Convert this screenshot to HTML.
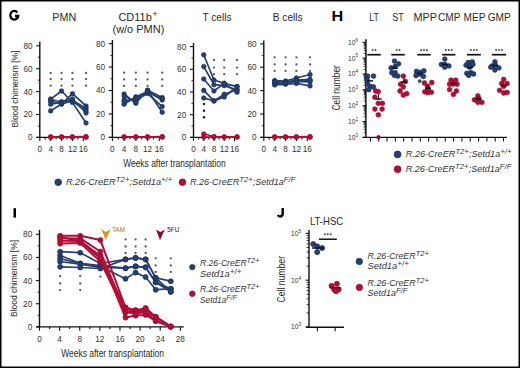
<!DOCTYPE html>
<html><head><meta charset="utf-8"><style>
html,body{margin:0;padding:0;background:#fff;}
#f{position:relative;width:520px;height:368px;overflow:hidden;background:#fff;}
svg{position:absolute;left:0;top:0;font-family:"Liberation Sans",sans-serif;}
</style></head><body><div id="f">
<svg width="520" height="368" viewBox="0 0 520 368">
<rect x="0" y="0" width="520" height="368" fill="#fff"/>
<path d="M17.4,12.5 A4.0,4.35 0 1 0 18.25,16.0 L15.0,16.0" fill="none" stroke="#000" stroke-width="2.3"/>
<text x="64.20" y="20.80" font-size="10.6" text-anchor="middle" fill="#2a2a2a" textLength="23.9" lengthAdjust="spacingAndGlyphs" >PMN</text>
<text x="118.40" y="21.00" font-size="10.6" text-anchor="start" fill="#2a2a2a" textLength="33.5" lengthAdjust="spacingAndGlyphs" >CD11b</text>
<text x="152.40" y="16.60" font-size="8.4" text-anchor="start" fill="#2a2a2a" >+</text>
<text x="138.40" y="32.60" font-size="10.6" text-anchor="middle" fill="#2a2a2a" textLength="51.8" lengthAdjust="spacingAndGlyphs" >(w/o PMN)</text>
<text x="217.00" y="21.00" font-size="10.6" text-anchor="middle" fill="#2a2a2a" textLength="28.9" lengthAdjust="spacingAndGlyphs" >T cells</text>
<text x="287.70" y="21.00" font-size="10.6" text-anchor="middle" fill="#2a2a2a" textLength="30" lengthAdjust="spacingAndGlyphs" >B cells</text>
<line x1="39.80" y1="41.80" x2="39.80" y2="137.90" stroke="#111" stroke-width="1.4"/>
<line x1="36.20" y1="137.40" x2="39.80" y2="137.40" stroke="#111" stroke-width="1.1"/>
<text x="32.50" y="140.30" font-size="8.2" text-anchor="end" fill="#333" >0</text>
<line x1="36.20" y1="114.50" x2="39.80" y2="114.50" stroke="#111" stroke-width="1.1"/>
<text x="32.50" y="117.40" font-size="8.2" text-anchor="end" fill="#333" >20</text>
<line x1="36.20" y1="91.60" x2="39.80" y2="91.60" stroke="#111" stroke-width="1.1"/>
<text x="32.50" y="94.50" font-size="8.2" text-anchor="end" fill="#333" >40</text>
<line x1="36.20" y1="68.70" x2="39.80" y2="68.70" stroke="#111" stroke-width="1.1"/>
<text x="32.50" y="71.60" font-size="8.2" text-anchor="end" fill="#333" >60</text>
<line x1="36.20" y1="45.80" x2="39.80" y2="45.80" stroke="#111" stroke-width="1.1"/>
<text x="32.50" y="48.70" font-size="8.2" text-anchor="end" fill="#333" >80</text>
<line x1="37.80" y1="125.95" x2="39.80" y2="125.95" stroke="#111" stroke-width="0.9"/>
<line x1="37.80" y1="103.05" x2="39.80" y2="103.05" stroke="#111" stroke-width="0.9"/>
<line x1="37.80" y1="80.15" x2="39.80" y2="80.15" stroke="#111" stroke-width="0.9"/>
<line x1="37.80" y1="57.25" x2="39.80" y2="57.25" stroke="#111" stroke-width="0.9"/>
<line x1="36.60" y1="137.40" x2="87.54" y2="137.40" stroke="#111" stroke-width="1.4"/>
<line x1="39.80" y1="137.40" x2="39.80" y2="141.00" stroke="#111" stroke-width="1.1"/>
<line x1="45.24" y1="137.40" x2="45.24" y2="139.60" stroke="#111" stroke-width="1.1"/>
<line x1="50.68" y1="137.40" x2="50.68" y2="141.00" stroke="#111" stroke-width="1.1"/>
<line x1="56.12" y1="137.40" x2="56.12" y2="139.60" stroke="#111" stroke-width="1.1"/>
<line x1="61.56" y1="137.40" x2="61.56" y2="141.00" stroke="#111" stroke-width="1.1"/>
<line x1="67.00" y1="137.40" x2="67.00" y2="139.60" stroke="#111" stroke-width="1.1"/>
<line x1="72.44" y1="137.40" x2="72.44" y2="141.00" stroke="#111" stroke-width="1.1"/>
<line x1="77.88" y1="137.40" x2="77.88" y2="139.60" stroke="#111" stroke-width="1.1"/>
<line x1="83.32" y1="137.40" x2="83.32" y2="141.00" stroke="#111" stroke-width="1.1"/>
<text x="39.80" y="152.00" font-size="8.2" text-anchor="middle" fill="#333" >0</text>
<text x="50.68" y="152.00" font-size="8.2" text-anchor="middle" fill="#333" >4</text>
<text x="61.56" y="152.00" font-size="8.2" text-anchor="middle" fill="#333" >8</text>
<text x="72.44" y="152.00" font-size="8.2" text-anchor="middle" fill="#333" >12</text>
<text x="83.32" y="152.00" font-size="8.2" text-anchor="middle" fill="#333" >16</text>
<line x1="112.40" y1="40.10" x2="112.40" y2="137.90" stroke="#111" stroke-width="1.4"/>
<line x1="108.80" y1="137.40" x2="112.40" y2="137.40" stroke="#111" stroke-width="1.1"/>
<text x="105.10" y="140.30" font-size="8.2" text-anchor="end" fill="#333" >0</text>
<line x1="108.80" y1="113.96" x2="112.40" y2="113.96" stroke="#111" stroke-width="1.1"/>
<text x="105.10" y="116.86" font-size="8.2" text-anchor="end" fill="#333" >20</text>
<line x1="108.80" y1="90.52" x2="112.40" y2="90.52" stroke="#111" stroke-width="1.1"/>
<text x="105.10" y="93.42" font-size="8.2" text-anchor="end" fill="#333" >40</text>
<line x1="108.80" y1="67.08" x2="112.40" y2="67.08" stroke="#111" stroke-width="1.1"/>
<text x="105.10" y="69.98" font-size="8.2" text-anchor="end" fill="#333" >60</text>
<line x1="108.80" y1="43.64" x2="112.40" y2="43.64" stroke="#111" stroke-width="1.1"/>
<text x="105.10" y="46.54" font-size="8.2" text-anchor="end" fill="#333" >80</text>
<line x1="110.40" y1="125.68" x2="112.40" y2="125.68" stroke="#111" stroke-width="0.9"/>
<line x1="110.40" y1="102.24" x2="112.40" y2="102.24" stroke="#111" stroke-width="0.9"/>
<line x1="110.40" y1="78.80" x2="112.40" y2="78.80" stroke="#111" stroke-width="0.9"/>
<line x1="110.40" y1="55.36" x2="112.40" y2="55.36" stroke="#111" stroke-width="0.9"/>
<line x1="109.20" y1="137.40" x2="163.71" y2="137.40" stroke="#111" stroke-width="1.4"/>
<line x1="112.40" y1="137.40" x2="112.40" y2="141.00" stroke="#111" stroke-width="1.1"/>
<line x1="118.26" y1="137.40" x2="118.26" y2="139.60" stroke="#111" stroke-width="1.1"/>
<line x1="124.12" y1="137.40" x2="124.12" y2="141.00" stroke="#111" stroke-width="1.1"/>
<line x1="129.98" y1="137.40" x2="129.98" y2="139.60" stroke="#111" stroke-width="1.1"/>
<line x1="135.84" y1="137.40" x2="135.84" y2="141.00" stroke="#111" stroke-width="1.1"/>
<line x1="141.70" y1="137.40" x2="141.70" y2="139.60" stroke="#111" stroke-width="1.1"/>
<line x1="147.56" y1="137.40" x2="147.56" y2="141.00" stroke="#111" stroke-width="1.1"/>
<line x1="153.42" y1="137.40" x2="153.42" y2="139.60" stroke="#111" stroke-width="1.1"/>
<line x1="159.28" y1="137.40" x2="159.28" y2="141.00" stroke="#111" stroke-width="1.1"/>
<text x="112.40" y="152.00" font-size="8.2" text-anchor="middle" fill="#333" >0</text>
<text x="124.12" y="152.00" font-size="8.2" text-anchor="middle" fill="#333" >4</text>
<text x="135.84" y="152.00" font-size="8.2" text-anchor="middle" fill="#333" >8</text>
<text x="147.56" y="152.00" font-size="8.2" text-anchor="middle" fill="#333" >12</text>
<text x="159.28" y="152.00" font-size="8.2" text-anchor="middle" fill="#333" >16</text>
<line x1="193.50" y1="43.10" x2="193.50" y2="137.90" stroke="#111" stroke-width="1.4"/>
<line x1="189.90" y1="137.40" x2="193.50" y2="137.40" stroke="#111" stroke-width="1.1"/>
<text x="186.20" y="140.30" font-size="8.2" text-anchor="end" fill="#333" >0</text>
<line x1="189.90" y1="114.70" x2="193.50" y2="114.70" stroke="#111" stroke-width="1.1"/>
<text x="186.20" y="117.60" font-size="8.2" text-anchor="end" fill="#333" >20</text>
<line x1="189.90" y1="92.00" x2="193.50" y2="92.00" stroke="#111" stroke-width="1.1"/>
<text x="186.20" y="94.90" font-size="8.2" text-anchor="end" fill="#333" >40</text>
<line x1="189.90" y1="69.30" x2="193.50" y2="69.30" stroke="#111" stroke-width="1.1"/>
<text x="186.20" y="72.20" font-size="8.2" text-anchor="end" fill="#333" >60</text>
<line x1="189.90" y1="46.60" x2="193.50" y2="46.60" stroke="#111" stroke-width="1.1"/>
<text x="186.20" y="49.50" font-size="8.2" text-anchor="end" fill="#333" >80</text>
<line x1="191.50" y1="126.05" x2="193.50" y2="126.05" stroke="#111" stroke-width="0.9"/>
<line x1="191.50" y1="103.35" x2="193.50" y2="103.35" stroke="#111" stroke-width="0.9"/>
<line x1="191.50" y1="80.65" x2="193.50" y2="80.65" stroke="#111" stroke-width="0.9"/>
<line x1="191.50" y1="57.95" x2="193.50" y2="57.95" stroke="#111" stroke-width="0.9"/>
<line x1="190.30" y1="137.40" x2="238.52" y2="137.40" stroke="#111" stroke-width="1.4"/>
<line x1="193.50" y1="137.40" x2="193.50" y2="141.00" stroke="#111" stroke-width="1.1"/>
<line x1="198.62" y1="137.40" x2="198.62" y2="139.60" stroke="#111" stroke-width="1.1"/>
<line x1="203.74" y1="137.40" x2="203.74" y2="141.00" stroke="#111" stroke-width="1.1"/>
<line x1="208.86" y1="137.40" x2="208.86" y2="139.60" stroke="#111" stroke-width="1.1"/>
<line x1="213.98" y1="137.40" x2="213.98" y2="141.00" stroke="#111" stroke-width="1.1"/>
<line x1="219.10" y1="137.40" x2="219.10" y2="139.60" stroke="#111" stroke-width="1.1"/>
<line x1="224.22" y1="137.40" x2="224.22" y2="141.00" stroke="#111" stroke-width="1.1"/>
<line x1="229.34" y1="137.40" x2="229.34" y2="139.60" stroke="#111" stroke-width="1.1"/>
<line x1="234.46" y1="137.40" x2="234.46" y2="141.00" stroke="#111" stroke-width="1.1"/>
<text x="193.50" y="152.00" font-size="8.2" text-anchor="middle" fill="#333" >0</text>
<text x="203.74" y="152.00" font-size="8.2" text-anchor="middle" fill="#333" >4</text>
<text x="213.98" y="152.00" font-size="8.2" text-anchor="middle" fill="#333" >8</text>
<text x="224.22" y="152.00" font-size="8.2" text-anchor="middle" fill="#333" >12</text>
<text x="234.46" y="152.00" font-size="8.2" text-anchor="middle" fill="#333" >16</text>
<line x1="263.80" y1="40.60" x2="263.80" y2="137.90" stroke="#111" stroke-width="1.4"/>
<line x1="260.20" y1="137.40" x2="263.80" y2="137.40" stroke="#111" stroke-width="1.1"/>
<text x="256.50" y="140.30" font-size="8.2" text-anchor="end" fill="#333" >0</text>
<line x1="260.20" y1="114.02" x2="263.80" y2="114.02" stroke="#111" stroke-width="1.1"/>
<text x="256.50" y="116.92" font-size="8.2" text-anchor="end" fill="#333" >20</text>
<line x1="260.20" y1="90.64" x2="263.80" y2="90.64" stroke="#111" stroke-width="1.1"/>
<text x="256.50" y="93.54" font-size="8.2" text-anchor="end" fill="#333" >40</text>
<line x1="260.20" y1="67.26" x2="263.80" y2="67.26" stroke="#111" stroke-width="1.1"/>
<text x="256.50" y="70.16" font-size="8.2" text-anchor="end" fill="#333" >60</text>
<line x1="260.20" y1="43.88" x2="263.80" y2="43.88" stroke="#111" stroke-width="1.1"/>
<text x="256.50" y="46.78" font-size="8.2" text-anchor="end" fill="#333" >80</text>
<line x1="261.80" y1="125.71" x2="263.80" y2="125.71" stroke="#111" stroke-width="0.9"/>
<line x1="261.80" y1="102.33" x2="263.80" y2="102.33" stroke="#111" stroke-width="0.9"/>
<line x1="261.80" y1="78.95" x2="263.80" y2="78.95" stroke="#111" stroke-width="0.9"/>
<line x1="261.80" y1="55.57" x2="263.80" y2="55.57" stroke="#111" stroke-width="0.9"/>
<line x1="260.60" y1="137.40" x2="311.54" y2="137.40" stroke="#111" stroke-width="1.4"/>
<line x1="263.80" y1="137.40" x2="263.80" y2="141.00" stroke="#111" stroke-width="1.1"/>
<line x1="269.24" y1="137.40" x2="269.24" y2="139.60" stroke="#111" stroke-width="1.1"/>
<line x1="274.68" y1="137.40" x2="274.68" y2="141.00" stroke="#111" stroke-width="1.1"/>
<line x1="280.12" y1="137.40" x2="280.12" y2="139.60" stroke="#111" stroke-width="1.1"/>
<line x1="285.56" y1="137.40" x2="285.56" y2="141.00" stroke="#111" stroke-width="1.1"/>
<line x1="291.00" y1="137.40" x2="291.00" y2="139.60" stroke="#111" stroke-width="1.1"/>
<line x1="296.44" y1="137.40" x2="296.44" y2="141.00" stroke="#111" stroke-width="1.1"/>
<line x1="301.88" y1="137.40" x2="301.88" y2="139.60" stroke="#111" stroke-width="1.1"/>
<line x1="307.32" y1="137.40" x2="307.32" y2="141.00" stroke="#111" stroke-width="1.1"/>
<text x="263.80" y="152.00" font-size="8.2" text-anchor="middle" fill="#333" >0</text>
<text x="274.68" y="152.00" font-size="8.2" text-anchor="middle" fill="#333" >4</text>
<text x="285.56" y="152.00" font-size="8.2" text-anchor="middle" fill="#333" >8</text>
<text x="296.44" y="152.00" font-size="8.2" text-anchor="middle" fill="#333" >12</text>
<text x="307.32" y="152.00" font-size="8.2" text-anchor="middle" fill="#333" >16</text>
<text x="123.20" y="167.20" font-size="10" text-anchor="start" fill="#2a2a2a" textLength="102.5" lengthAdjust="spacingAndGlyphs" >Weeks after transplantation</text>
<text transform="translate(17.6,89.1) rotate(-90)" font-size="9.4" text-anchor="middle" fill="#2a2a2a" textLength="77" lengthAdjust="spacingAndGlyphs">Blood chimerism [%]</text>
<circle cx="50.68" cy="72.90" r="1.15" fill="#5a5a5a"/>
<circle cx="50.68" cy="79.20" r="1.15" fill="#5a5a5a"/>
<circle cx="50.68" cy="85.70" r="1.15" fill="#5a5a5a"/>
<circle cx="61.56" cy="72.90" r="1.15" fill="#5a5a5a"/>
<circle cx="61.56" cy="79.20" r="1.15" fill="#5a5a5a"/>
<circle cx="61.56" cy="85.70" r="1.15" fill="#5a5a5a"/>
<circle cx="72.44" cy="72.90" r="1.15" fill="#5a5a5a"/>
<circle cx="72.44" cy="79.20" r="1.15" fill="#5a5a5a"/>
<circle cx="72.44" cy="85.70" r="1.15" fill="#5a5a5a"/>
<circle cx="86.04" cy="72.90" r="1.15" fill="#5a5a5a"/>
<circle cx="86.04" cy="79.20" r="1.15" fill="#5a5a5a"/>
<circle cx="86.04" cy="85.70" r="1.15" fill="#5a5a5a"/>
<circle cx="124.12" cy="72.70" r="1.15" fill="#5a5a5a"/>
<circle cx="124.12" cy="79.40" r="1.15" fill="#5a5a5a"/>
<circle cx="124.12" cy="85.90" r="1.15" fill="#5a5a5a"/>
<circle cx="135.84" cy="72.70" r="1.15" fill="#5a5a5a"/>
<circle cx="135.84" cy="79.40" r="1.15" fill="#5a5a5a"/>
<circle cx="135.84" cy="85.90" r="1.15" fill="#5a5a5a"/>
<circle cx="147.56" cy="72.70" r="1.15" fill="#5a5a5a"/>
<circle cx="147.56" cy="79.40" r="1.15" fill="#5a5a5a"/>
<circle cx="147.56" cy="85.90" r="1.15" fill="#5a5a5a"/>
<circle cx="162.21" cy="72.70" r="1.15" fill="#5a5a5a"/>
<circle cx="162.21" cy="79.40" r="1.15" fill="#5a5a5a"/>
<circle cx="162.21" cy="85.90" r="1.15" fill="#5a5a5a"/>
<circle cx="213.98" cy="60.00" r="1.15" fill="#5a5a5a"/>
<circle cx="213.98" cy="67.60" r="1.15" fill="#5a5a5a"/>
<circle cx="213.98" cy="74.20" r="1.15" fill="#5a5a5a"/>
<circle cx="224.22" cy="60.00" r="1.15" fill="#5a5a5a"/>
<circle cx="224.22" cy="67.60" r="1.15" fill="#5a5a5a"/>
<circle cx="224.22" cy="74.20" r="1.15" fill="#5a5a5a"/>
<circle cx="237.02" cy="60.00" r="1.15" fill="#5a5a5a"/>
<circle cx="237.02" cy="67.60" r="1.15" fill="#5a5a5a"/>
<circle cx="237.02" cy="74.20" r="1.15" fill="#5a5a5a"/>
<circle cx="204.0" cy="103.9" r="1.25" fill="#252525"/>
<circle cx="204.0" cy="110.7" r="1.25" fill="#252525"/>
<circle cx="204.0" cy="117.3" r="1.25" fill="#252525"/>
<circle cx="274.68" cy="57.30" r="1.15" fill="#5a5a5a"/>
<circle cx="274.68" cy="64.40" r="1.15" fill="#5a5a5a"/>
<circle cx="274.68" cy="70.90" r="1.15" fill="#5a5a5a"/>
<circle cx="285.56" cy="57.30" r="1.15" fill="#5a5a5a"/>
<circle cx="285.56" cy="64.40" r="1.15" fill="#5a5a5a"/>
<circle cx="285.56" cy="70.90" r="1.15" fill="#5a5a5a"/>
<circle cx="296.44" cy="57.30" r="1.15" fill="#5a5a5a"/>
<circle cx="296.44" cy="64.40" r="1.15" fill="#5a5a5a"/>
<circle cx="296.44" cy="70.90" r="1.15" fill="#5a5a5a"/>
<circle cx="310.04" cy="57.30" r="1.15" fill="#5a5a5a"/>
<circle cx="310.04" cy="64.40" r="1.15" fill="#5a5a5a"/>
<circle cx="310.04" cy="70.90" r="1.15" fill="#5a5a5a"/>
<polyline points="50.68,99.10 61.56,91.00 72.44,102.40 86.04,123.00" fill="none" stroke="#26406f" stroke-width="1.7" stroke-linejoin="round"/>
<circle cx="50.68" cy="99.10" r="2.3" fill="#26406f" stroke="#1a2c52" stroke-width="0.6"/>
<circle cx="61.56" cy="91.00" r="2.3" fill="#26406f" stroke="#1a2c52" stroke-width="0.6"/>
<circle cx="72.44" cy="102.40" r="2.3" fill="#26406f" stroke="#1a2c52" stroke-width="0.6"/>
<circle cx="86.04" cy="123.00" r="2.3" fill="#26406f" stroke="#1a2c52" stroke-width="0.6"/>
<polyline points="50.68,101.30 61.56,104.00 72.44,93.70 86.04,106.00" fill="none" stroke="#26406f" stroke-width="1.7" stroke-linejoin="round"/>
<circle cx="50.68" cy="101.30" r="2.3" fill="#26406f" stroke="#1a2c52" stroke-width="0.6"/>
<circle cx="61.56" cy="104.00" r="2.3" fill="#26406f" stroke="#1a2c52" stroke-width="0.6"/>
<circle cx="72.44" cy="93.70" r="2.3" fill="#26406f" stroke="#1a2c52" stroke-width="0.6"/>
<circle cx="86.04" cy="106.00" r="2.3" fill="#26406f" stroke="#1a2c52" stroke-width="0.6"/>
<polyline points="50.68,104.30 61.56,101.80 72.44,100.20 86.04,108.40" fill="none" stroke="#26406f" stroke-width="1.7" stroke-linejoin="round"/>
<circle cx="50.68" cy="104.30" r="2.3" fill="#26406f" stroke="#1a2c52" stroke-width="0.6"/>
<circle cx="61.56" cy="101.80" r="2.3" fill="#26406f" stroke="#1a2c52" stroke-width="0.6"/>
<circle cx="72.44" cy="100.20" r="2.3" fill="#26406f" stroke="#1a2c52" stroke-width="0.6"/>
<circle cx="86.04" cy="108.40" r="2.3" fill="#26406f" stroke="#1a2c52" stroke-width="0.6"/>
<polyline points="50.68,110.90 61.56,104.00 72.44,101.00 86.04,111.00" fill="none" stroke="#26406f" stroke-width="1.7" stroke-linejoin="round"/>
<circle cx="50.68" cy="110.90" r="2.3" fill="#26406f" stroke="#1a2c52" stroke-width="0.6"/>
<circle cx="61.56" cy="104.00" r="2.3" fill="#26406f" stroke="#1a2c52" stroke-width="0.6"/>
<circle cx="72.44" cy="101.00" r="2.3" fill="#26406f" stroke="#1a2c52" stroke-width="0.6"/>
<circle cx="86.04" cy="111.00" r="2.3" fill="#26406f" stroke="#1a2c52" stroke-width="0.6"/>
<polyline points="50.68,99.50 61.56,102.00 72.44,99.00 86.04,113.00" fill="none" stroke="#26406f" stroke-width="1.7" stroke-linejoin="round"/>
<circle cx="50.68" cy="99.50" r="2.3" fill="#26406f" stroke="#1a2c52" stroke-width="0.6"/>
<circle cx="61.56" cy="102.00" r="2.3" fill="#26406f" stroke="#1a2c52" stroke-width="0.6"/>
<circle cx="72.44" cy="99.00" r="2.3" fill="#26406f" stroke="#1a2c52" stroke-width="0.6"/>
<circle cx="86.04" cy="113.00" r="2.3" fill="#26406f" stroke="#1a2c52" stroke-width="0.6"/>
<polyline points="124.12,94.00 135.84,103.30 147.56,90.30 162.21,97.60" fill="none" stroke="#26406f" stroke-width="1.7" stroke-linejoin="round"/>
<circle cx="124.12" cy="94.00" r="2.3" fill="#26406f" stroke="#1a2c52" stroke-width="0.6"/>
<circle cx="135.84" cy="103.30" r="2.3" fill="#26406f" stroke="#1a2c52" stroke-width="0.6"/>
<circle cx="147.56" cy="90.30" r="2.3" fill="#26406f" stroke="#1a2c52" stroke-width="0.6"/>
<circle cx="162.21" cy="97.60" r="2.3" fill="#26406f" stroke="#1a2c52" stroke-width="0.6"/>
<polyline points="124.12,104.20 135.84,96.80 147.56,91.50 162.21,100.00" fill="none" stroke="#26406f" stroke-width="1.7" stroke-linejoin="round"/>
<circle cx="124.12" cy="104.20" r="2.3" fill="#26406f" stroke="#1a2c52" stroke-width="0.6"/>
<circle cx="135.84" cy="96.80" r="2.3" fill="#26406f" stroke="#1a2c52" stroke-width="0.6"/>
<circle cx="147.56" cy="91.50" r="2.3" fill="#26406f" stroke="#1a2c52" stroke-width="0.6"/>
<circle cx="162.21" cy="100.00" r="2.3" fill="#26406f" stroke="#1a2c52" stroke-width="0.6"/>
<polyline points="124.12,100.00 135.84,100.00 147.56,93.50 162.21,106.60" fill="none" stroke="#26406f" stroke-width="1.7" stroke-linejoin="round"/>
<circle cx="124.12" cy="100.00" r="2.3" fill="#26406f" stroke="#1a2c52" stroke-width="0.6"/>
<circle cx="135.84" cy="100.00" r="2.3" fill="#26406f" stroke="#1a2c52" stroke-width="0.6"/>
<circle cx="147.56" cy="93.50" r="2.3" fill="#26406f" stroke="#1a2c52" stroke-width="0.6"/>
<circle cx="162.21" cy="106.60" r="2.3" fill="#26406f" stroke="#1a2c52" stroke-width="0.6"/>
<polyline points="124.12,96.00 135.84,102.00 147.56,90.30 162.21,112.30" fill="none" stroke="#26406f" stroke-width="1.7" stroke-linejoin="round"/>
<circle cx="124.12" cy="96.00" r="2.3" fill="#26406f" stroke="#1a2c52" stroke-width="0.6"/>
<circle cx="135.84" cy="102.00" r="2.3" fill="#26406f" stroke="#1a2c52" stroke-width="0.6"/>
<circle cx="147.56" cy="90.30" r="2.3" fill="#26406f" stroke="#1a2c52" stroke-width="0.6"/>
<circle cx="162.21" cy="112.30" r="2.3" fill="#26406f" stroke="#1a2c52" stroke-width="0.6"/>
<polyline points="124.12,101.50 135.84,98.50 147.56,92.00 162.21,99.00" fill="none" stroke="#26406f" stroke-width="1.7" stroke-linejoin="round"/>
<circle cx="124.12" cy="101.50" r="2.3" fill="#26406f" stroke="#1a2c52" stroke-width="0.6"/>
<circle cx="135.84" cy="98.50" r="2.3" fill="#26406f" stroke="#1a2c52" stroke-width="0.6"/>
<circle cx="147.56" cy="92.00" r="2.3" fill="#26406f" stroke="#1a2c52" stroke-width="0.6"/>
<circle cx="162.21" cy="99.00" r="2.3" fill="#26406f" stroke="#1a2c52" stroke-width="0.6"/>
<polyline points="203.74,54.80 213.98,80.00 224.22,83.40 237.02,86.60" fill="none" stroke="#26406f" stroke-width="1.7" stroke-linejoin="round"/>
<circle cx="203.74" cy="54.80" r="2.3" fill="#26406f" stroke="#1a2c52" stroke-width="0.6"/>
<circle cx="213.98" cy="80.00" r="2.3" fill="#26406f" stroke="#1a2c52" stroke-width="0.6"/>
<circle cx="224.22" cy="83.40" r="2.3" fill="#26406f" stroke="#1a2c52" stroke-width="0.6"/>
<circle cx="237.02" cy="86.60" r="2.3" fill="#26406f" stroke="#1a2c52" stroke-width="0.6"/>
<polyline points="203.74,66.60 213.98,84.70 224.22,85.70 237.02,89.80" fill="none" stroke="#26406f" stroke-width="1.7" stroke-linejoin="round"/>
<circle cx="203.74" cy="66.60" r="2.3" fill="#26406f" stroke="#1a2c52" stroke-width="0.6"/>
<circle cx="213.98" cy="84.70" r="2.3" fill="#26406f" stroke="#1a2c52" stroke-width="0.6"/>
<circle cx="224.22" cy="85.70" r="2.3" fill="#26406f" stroke="#1a2c52" stroke-width="0.6"/>
<circle cx="237.02" cy="89.80" r="2.3" fill="#26406f" stroke="#1a2c52" stroke-width="0.6"/>
<polyline points="203.74,79.00 213.98,91.00 224.22,83.40 237.02,92.30" fill="none" stroke="#26406f" stroke-width="1.7" stroke-linejoin="round"/>
<circle cx="203.74" cy="79.00" r="2.3" fill="#26406f" stroke="#1a2c52" stroke-width="0.6"/>
<circle cx="213.98" cy="91.00" r="2.3" fill="#26406f" stroke="#1a2c52" stroke-width="0.6"/>
<circle cx="224.22" cy="83.40" r="2.3" fill="#26406f" stroke="#1a2c52" stroke-width="0.6"/>
<circle cx="237.02" cy="92.30" r="2.3" fill="#26406f" stroke="#1a2c52" stroke-width="0.6"/>
<polyline points="203.74,90.40 213.98,100.90 224.22,94.20 237.02,89.80" fill="none" stroke="#26406f" stroke-width="1.7" stroke-linejoin="round"/>
<circle cx="203.74" cy="90.40" r="2.3" fill="#26406f" stroke="#1a2c52" stroke-width="0.6"/>
<circle cx="213.98" cy="100.90" r="2.3" fill="#26406f" stroke="#1a2c52" stroke-width="0.6"/>
<circle cx="224.22" cy="94.20" r="2.3" fill="#26406f" stroke="#1a2c52" stroke-width="0.6"/>
<circle cx="237.02" cy="89.80" r="2.3" fill="#26406f" stroke="#1a2c52" stroke-width="0.6"/>
<polyline points="203.74,98.00 213.98,100.90 224.22,97.00 237.02,86.60" fill="none" stroke="#26406f" stroke-width="1.7" stroke-linejoin="round"/>
<circle cx="203.74" cy="98.00" r="2.3" fill="#26406f" stroke="#1a2c52" stroke-width="0.6"/>
<circle cx="213.98" cy="100.90" r="2.3" fill="#26406f" stroke="#1a2c52" stroke-width="0.6"/>
<circle cx="224.22" cy="97.00" r="2.3" fill="#26406f" stroke="#1a2c52" stroke-width="0.6"/>
<circle cx="237.02" cy="86.60" r="2.3" fill="#26406f" stroke="#1a2c52" stroke-width="0.6"/>
<polyline points="274.68,80.50 285.56,81.00 296.44,78.00 310.04,74.50" fill="none" stroke="#26406f" stroke-width="1.7" stroke-linejoin="round"/>
<circle cx="274.68" cy="80.50" r="2.3" fill="#26406f" stroke="#1a2c52" stroke-width="0.6"/>
<circle cx="285.56" cy="81.00" r="2.3" fill="#26406f" stroke="#1a2c52" stroke-width="0.6"/>
<circle cx="296.44" cy="78.00" r="2.3" fill="#26406f" stroke="#1a2c52" stroke-width="0.6"/>
<circle cx="310.04" cy="74.50" r="2.3" fill="#26406f" stroke="#1a2c52" stroke-width="0.6"/>
<polyline points="274.68,82.00 285.56,82.00 296.44,80.00 310.04,79.40" fill="none" stroke="#26406f" stroke-width="1.7" stroke-linejoin="round"/>
<circle cx="274.68" cy="82.00" r="2.3" fill="#26406f" stroke="#1a2c52" stroke-width="0.6"/>
<circle cx="285.56" cy="82.00" r="2.3" fill="#26406f" stroke="#1a2c52" stroke-width="0.6"/>
<circle cx="296.44" cy="80.00" r="2.3" fill="#26406f" stroke="#1a2c52" stroke-width="0.6"/>
<circle cx="310.04" cy="79.40" r="2.3" fill="#26406f" stroke="#1a2c52" stroke-width="0.6"/>
<polyline points="274.68,83.50 285.56,83.00 296.44,81.50 310.04,81.80" fill="none" stroke="#26406f" stroke-width="1.7" stroke-linejoin="round"/>
<circle cx="274.68" cy="83.50" r="2.3" fill="#26406f" stroke="#1a2c52" stroke-width="0.6"/>
<circle cx="285.56" cy="83.00" r="2.3" fill="#26406f" stroke="#1a2c52" stroke-width="0.6"/>
<circle cx="296.44" cy="81.50" r="2.3" fill="#26406f" stroke="#1a2c52" stroke-width="0.6"/>
<circle cx="310.04" cy="81.80" r="2.3" fill="#26406f" stroke="#1a2c52" stroke-width="0.6"/>
<polyline points="274.68,85.00 285.56,84.30 296.44,83.40 310.04,85.90" fill="none" stroke="#26406f" stroke-width="1.7" stroke-linejoin="round"/>
<circle cx="274.68" cy="85.00" r="2.3" fill="#26406f" stroke="#1a2c52" stroke-width="0.6"/>
<circle cx="285.56" cy="84.30" r="2.3" fill="#26406f" stroke="#1a2c52" stroke-width="0.6"/>
<circle cx="296.44" cy="83.40" r="2.3" fill="#26406f" stroke="#1a2c52" stroke-width="0.6"/>
<circle cx="310.04" cy="85.90" r="2.3" fill="#26406f" stroke="#1a2c52" stroke-width="0.6"/>
<polyline points="274.68,81.50 285.56,82.50 296.44,80.50 310.04,80.50" fill="none" stroke="#26406f" stroke-width="1.7" stroke-linejoin="round"/>
<circle cx="274.68" cy="81.50" r="2.3" fill="#26406f" stroke="#1a2c52" stroke-width="0.6"/>
<circle cx="285.56" cy="82.50" r="2.3" fill="#26406f" stroke="#1a2c52" stroke-width="0.6"/>
<circle cx="296.44" cy="80.50" r="2.3" fill="#26406f" stroke="#1a2c52" stroke-width="0.6"/>
<circle cx="310.04" cy="80.50" r="2.3" fill="#26406f" stroke="#1a2c52" stroke-width="0.6"/>
<polyline points="50.68,136.80 61.56,136.80 72.44,136.80 86.04,136.60" fill="none" stroke="#b40e38" stroke-width="1.7" stroke-linejoin="round"/>
<circle cx="50.68" cy="136.80" r="2.3" fill="#b40e38" stroke="#920a2c" stroke-width="0.6"/>
<circle cx="61.56" cy="136.80" r="2.3" fill="#b40e38" stroke="#920a2c" stroke-width="0.6"/>
<circle cx="72.44" cy="136.80" r="2.3" fill="#b40e38" stroke="#920a2c" stroke-width="0.6"/>
<circle cx="86.04" cy="136.60" r="2.3" fill="#b40e38" stroke="#920a2c" stroke-width="0.6"/>
<polyline points="50.68,137.20 61.56,137.20 72.44,137.20 86.04,137.20" fill="none" stroke="#b40e38" stroke-width="1.7" stroke-linejoin="round"/>
<circle cx="50.68" cy="137.20" r="2.3" fill="#b40e38" stroke="#920a2c" stroke-width="0.6"/>
<circle cx="61.56" cy="137.20" r="2.3" fill="#b40e38" stroke="#920a2c" stroke-width="0.6"/>
<circle cx="72.44" cy="137.20" r="2.3" fill="#b40e38" stroke="#920a2c" stroke-width="0.6"/>
<circle cx="86.04" cy="137.20" r="2.3" fill="#b40e38" stroke="#920a2c" stroke-width="0.6"/>
<polyline points="124.12,136.80 135.84,136.80 147.56,136.80 162.21,136.60" fill="none" stroke="#b40e38" stroke-width="1.7" stroke-linejoin="round"/>
<circle cx="124.12" cy="136.80" r="2.3" fill="#b40e38" stroke="#920a2c" stroke-width="0.6"/>
<circle cx="135.84" cy="136.80" r="2.3" fill="#b40e38" stroke="#920a2c" stroke-width="0.6"/>
<circle cx="147.56" cy="136.80" r="2.3" fill="#b40e38" stroke="#920a2c" stroke-width="0.6"/>
<circle cx="162.21" cy="136.60" r="2.3" fill="#b40e38" stroke="#920a2c" stroke-width="0.6"/>
<polyline points="124.12,137.20 135.84,137.20 147.56,137.20 162.21,137.20" fill="none" stroke="#b40e38" stroke-width="1.7" stroke-linejoin="round"/>
<circle cx="124.12" cy="137.20" r="2.3" fill="#b40e38" stroke="#920a2c" stroke-width="0.6"/>
<circle cx="135.84" cy="137.20" r="2.3" fill="#b40e38" stroke="#920a2c" stroke-width="0.6"/>
<circle cx="147.56" cy="137.20" r="2.3" fill="#b40e38" stroke="#920a2c" stroke-width="0.6"/>
<circle cx="162.21" cy="137.20" r="2.3" fill="#b40e38" stroke="#920a2c" stroke-width="0.6"/>
<polyline points="203.74,134.00 213.98,136.50 224.22,136.80 237.02,136.80" fill="none" stroke="#b40e38" stroke-width="1.7" stroke-linejoin="round"/>
<circle cx="203.74" cy="134.00" r="2.3" fill="#b40e38" stroke="#920a2c" stroke-width="0.6"/>
<circle cx="213.98" cy="136.50" r="2.3" fill="#b40e38" stroke="#920a2c" stroke-width="0.6"/>
<circle cx="224.22" cy="136.80" r="2.3" fill="#b40e38" stroke="#920a2c" stroke-width="0.6"/>
<circle cx="237.02" cy="136.80" r="2.3" fill="#b40e38" stroke="#920a2c" stroke-width="0.6"/>
<polyline points="203.74,137.20 213.98,137.20 224.22,137.20 237.02,137.20" fill="none" stroke="#b40e38" stroke-width="1.7" stroke-linejoin="round"/>
<circle cx="203.74" cy="137.20" r="2.3" fill="#b40e38" stroke="#920a2c" stroke-width="0.6"/>
<circle cx="213.98" cy="137.20" r="2.3" fill="#b40e38" stroke="#920a2c" stroke-width="0.6"/>
<circle cx="224.22" cy="137.20" r="2.3" fill="#b40e38" stroke="#920a2c" stroke-width="0.6"/>
<circle cx="237.02" cy="137.20" r="2.3" fill="#b40e38" stroke="#920a2c" stroke-width="0.6"/>
<polyline points="274.68,136.80 285.56,136.80 296.44,136.80 310.04,136.60" fill="none" stroke="#b40e38" stroke-width="1.7" stroke-linejoin="round"/>
<circle cx="274.68" cy="136.80" r="2.3" fill="#b40e38" stroke="#920a2c" stroke-width="0.6"/>
<circle cx="285.56" cy="136.80" r="2.3" fill="#b40e38" stroke="#920a2c" stroke-width="0.6"/>
<circle cx="296.44" cy="136.80" r="2.3" fill="#b40e38" stroke="#920a2c" stroke-width="0.6"/>
<circle cx="310.04" cy="136.60" r="2.3" fill="#b40e38" stroke="#920a2c" stroke-width="0.6"/>
<polyline points="274.68,137.20 285.56,137.20 296.44,137.20 310.04,137.20" fill="none" stroke="#b40e38" stroke-width="1.7" stroke-linejoin="round"/>
<circle cx="274.68" cy="137.20" r="2.3" fill="#b40e38" stroke="#920a2c" stroke-width="0.6"/>
<circle cx="285.56" cy="137.20" r="2.3" fill="#b40e38" stroke="#920a2c" stroke-width="0.6"/>
<circle cx="296.44" cy="137.20" r="2.3" fill="#b40e38" stroke="#920a2c" stroke-width="0.6"/>
<circle cx="310.04" cy="137.20" r="2.3" fill="#b40e38" stroke="#920a2c" stroke-width="0.6"/>
<circle cx="58.20" cy="182.30" r="3.3" fill="#26406f" stroke="#1a2c52" stroke-width="0.8"/>
<text x="65.90" y="185.00" font-size="9.0" font-style="italic" fill="#333" textLength="106.5" lengthAdjust="spacingAndGlyphs">R.26-CreER<tspan dy="-3.0" font-size="7.74">T2+</tspan><tspan dy="3.0">;Setd1a</tspan><tspan dy="-3.0" font-size="7.74">+/+</tspan></text>
<circle cx="182.40" cy="182.20" r="3.3" fill="#b40e38" stroke="#920a2c" stroke-width="0.8"/>
<text x="190.10" y="185.00" font-size="9.0" font-style="italic" fill="#333" textLength="105.3" lengthAdjust="spacingAndGlyphs">R.26-CreER<tspan dy="-3.0" font-size="7.74">T2+</tspan><tspan dy="3.0">;Setd1a</tspan><tspan dy="-3.0" font-size="7.74">F/F</tspan></text>
<text x="331.50" y="20.90" font-size="15.4" text-anchor="start" fill="#000" font-weight="bold" textLength="11.7" lengthAdjust="spacingAndGlyphs" >H</text>
<text x="369.20" y="20.80" font-size="10.6" text-anchor="start" fill="#2a2a2a" textLength="9.6" lengthAdjust="spacingAndGlyphs" >LT</text>
<text x="392.30" y="20.80" font-size="10.6" text-anchor="start" fill="#2a2a2a" textLength="11.5" lengthAdjust="spacingAndGlyphs" >ST</text>
<text x="413.40" y="20.80" font-size="10.6" text-anchor="start" fill="#2a2a2a" textLength="23.5" lengthAdjust="spacingAndGlyphs" >MPP</text>
<text x="438.00" y="20.80" font-size="10.6" text-anchor="start" fill="#2a2a2a" textLength="22.5" lengthAdjust="spacingAndGlyphs" >CMP</text>
<text x="463.50" y="20.80" font-size="10.6" text-anchor="start" fill="#2a2a2a" textLength="21.9" lengthAdjust="spacingAndGlyphs" >MEP</text>
<text x="487.70" y="20.80" font-size="10.6" text-anchor="start" fill="#2a2a2a" textLength="23.1" lengthAdjust="spacingAndGlyphs" >GMP</text>
<line x1="365.90" y1="39.30" x2="365.90" y2="137.90" stroke="#111" stroke-width="1.5"/>
<line x1="362.50" y1="137.40" x2="365.90" y2="137.40" stroke="#111" stroke-width="1.1"/>
<text x="358.00" y="139.80" font-size="8.0" text-anchor="end" fill="#333" textLength="10" lengthAdjust="spacingAndGlyphs">10<tspan dy="-3.1" font-size="5.6">0</tspan></text>
<line x1="363.70" y1="132.63" x2="365.90" y2="132.63" stroke="#111" stroke-width="0.8"/>
<line x1="363.70" y1="129.84" x2="365.90" y2="129.84" stroke="#111" stroke-width="0.8"/>
<line x1="363.70" y1="127.86" x2="365.90" y2="127.86" stroke="#111" stroke-width="0.8"/>
<line x1="363.70" y1="126.32" x2="365.90" y2="126.32" stroke="#111" stroke-width="0.8"/>
<line x1="363.70" y1="125.07" x2="365.90" y2="125.07" stroke="#111" stroke-width="0.8"/>
<line x1="363.70" y1="124.01" x2="365.90" y2="124.01" stroke="#111" stroke-width="0.8"/>
<line x1="363.70" y1="123.09" x2="365.90" y2="123.09" stroke="#111" stroke-width="0.8"/>
<line x1="363.70" y1="122.28" x2="365.90" y2="122.28" stroke="#111" stroke-width="0.8"/>
<line x1="362.50" y1="121.55" x2="365.90" y2="121.55" stroke="#111" stroke-width="1.1"/>
<text x="358.00" y="123.95" font-size="8.0" text-anchor="end" fill="#333" textLength="10" lengthAdjust="spacingAndGlyphs">10<tspan dy="-3.1" font-size="5.6">1</tspan></text>
<line x1="363.70" y1="116.78" x2="365.90" y2="116.78" stroke="#111" stroke-width="0.8"/>
<line x1="363.70" y1="113.99" x2="365.90" y2="113.99" stroke="#111" stroke-width="0.8"/>
<line x1="363.70" y1="112.01" x2="365.90" y2="112.01" stroke="#111" stroke-width="0.8"/>
<line x1="363.70" y1="110.47" x2="365.90" y2="110.47" stroke="#111" stroke-width="0.8"/>
<line x1="363.70" y1="109.22" x2="365.90" y2="109.22" stroke="#111" stroke-width="0.8"/>
<line x1="363.70" y1="108.16" x2="365.90" y2="108.16" stroke="#111" stroke-width="0.8"/>
<line x1="363.70" y1="107.24" x2="365.90" y2="107.24" stroke="#111" stroke-width="0.8"/>
<line x1="363.70" y1="106.43" x2="365.90" y2="106.43" stroke="#111" stroke-width="0.8"/>
<line x1="362.50" y1="105.70" x2="365.90" y2="105.70" stroke="#111" stroke-width="1.1"/>
<text x="358.00" y="108.10" font-size="8.0" text-anchor="end" fill="#333" textLength="10" lengthAdjust="spacingAndGlyphs">10<tspan dy="-3.1" font-size="5.6">2</tspan></text>
<line x1="363.70" y1="100.93" x2="365.90" y2="100.93" stroke="#111" stroke-width="0.8"/>
<line x1="363.70" y1="98.14" x2="365.90" y2="98.14" stroke="#111" stroke-width="0.8"/>
<line x1="363.70" y1="96.16" x2="365.90" y2="96.16" stroke="#111" stroke-width="0.8"/>
<line x1="363.70" y1="94.62" x2="365.90" y2="94.62" stroke="#111" stroke-width="0.8"/>
<line x1="363.70" y1="93.37" x2="365.90" y2="93.37" stroke="#111" stroke-width="0.8"/>
<line x1="363.70" y1="92.31" x2="365.90" y2="92.31" stroke="#111" stroke-width="0.8"/>
<line x1="363.70" y1="91.39" x2="365.90" y2="91.39" stroke="#111" stroke-width="0.8"/>
<line x1="363.70" y1="90.58" x2="365.90" y2="90.58" stroke="#111" stroke-width="0.8"/>
<line x1="362.50" y1="89.85" x2="365.90" y2="89.85" stroke="#111" stroke-width="1.1"/>
<text x="358.00" y="92.25" font-size="8.0" text-anchor="end" fill="#333" textLength="10" lengthAdjust="spacingAndGlyphs">10<tspan dy="-3.1" font-size="5.6">3</tspan></text>
<line x1="363.70" y1="85.08" x2="365.90" y2="85.08" stroke="#111" stroke-width="0.8"/>
<line x1="363.70" y1="82.29" x2="365.90" y2="82.29" stroke="#111" stroke-width="0.8"/>
<line x1="363.70" y1="80.31" x2="365.90" y2="80.31" stroke="#111" stroke-width="0.8"/>
<line x1="363.70" y1="78.77" x2="365.90" y2="78.77" stroke="#111" stroke-width="0.8"/>
<line x1="363.70" y1="77.52" x2="365.90" y2="77.52" stroke="#111" stroke-width="0.8"/>
<line x1="363.70" y1="76.46" x2="365.90" y2="76.46" stroke="#111" stroke-width="0.8"/>
<line x1="363.70" y1="75.54" x2="365.90" y2="75.54" stroke="#111" stroke-width="0.8"/>
<line x1="363.70" y1="74.73" x2="365.90" y2="74.73" stroke="#111" stroke-width="0.8"/>
<line x1="362.50" y1="74.00" x2="365.90" y2="74.00" stroke="#111" stroke-width="1.1"/>
<text x="358.00" y="76.40" font-size="8.0" text-anchor="end" fill="#333" textLength="10" lengthAdjust="spacingAndGlyphs">10<tspan dy="-3.1" font-size="5.6">4</tspan></text>
<line x1="363.70" y1="69.23" x2="365.90" y2="69.23" stroke="#111" stroke-width="0.8"/>
<line x1="363.70" y1="66.44" x2="365.90" y2="66.44" stroke="#111" stroke-width="0.8"/>
<line x1="363.70" y1="64.46" x2="365.90" y2="64.46" stroke="#111" stroke-width="0.8"/>
<line x1="363.70" y1="62.92" x2="365.90" y2="62.92" stroke="#111" stroke-width="0.8"/>
<line x1="363.70" y1="61.67" x2="365.90" y2="61.67" stroke="#111" stroke-width="0.8"/>
<line x1="363.70" y1="60.61" x2="365.90" y2="60.61" stroke="#111" stroke-width="0.8"/>
<line x1="363.70" y1="59.69" x2="365.90" y2="59.69" stroke="#111" stroke-width="0.8"/>
<line x1="363.70" y1="58.88" x2="365.90" y2="58.88" stroke="#111" stroke-width="0.8"/>
<line x1="362.50" y1="58.15" x2="365.90" y2="58.15" stroke="#111" stroke-width="1.1"/>
<text x="358.00" y="60.55" font-size="8.0" text-anchor="end" fill="#333" textLength="10" lengthAdjust="spacingAndGlyphs">10<tspan dy="-3.1" font-size="5.6">5</tspan></text>
<line x1="363.70" y1="53.38" x2="365.90" y2="53.38" stroke="#111" stroke-width="0.8"/>
<line x1="363.70" y1="50.59" x2="365.90" y2="50.59" stroke="#111" stroke-width="0.8"/>
<line x1="363.70" y1="48.61" x2="365.90" y2="48.61" stroke="#111" stroke-width="0.8"/>
<line x1="363.70" y1="47.07" x2="365.90" y2="47.07" stroke="#111" stroke-width="0.8"/>
<line x1="363.70" y1="45.82" x2="365.90" y2="45.82" stroke="#111" stroke-width="0.8"/>
<line x1="363.70" y1="44.76" x2="365.90" y2="44.76" stroke="#111" stroke-width="0.8"/>
<line x1="363.70" y1="43.84" x2="365.90" y2="43.84" stroke="#111" stroke-width="0.8"/>
<line x1="363.70" y1="43.03" x2="365.90" y2="43.03" stroke="#111" stroke-width="0.8"/>
<line x1="362.50" y1="42.30" x2="365.90" y2="42.30" stroke="#111" stroke-width="1.1"/>
<text x="358.00" y="44.70" font-size="8.0" text-anchor="end" fill="#333" textLength="10" lengthAdjust="spacingAndGlyphs">10<tspan dy="-3.1" font-size="5.6">6</tspan></text>
<line x1="362.90" y1="137.40" x2="507.00" y2="137.40" stroke="#111" stroke-width="1.4"/>
<line x1="370.40" y1="137.40" x2="370.40" y2="141.40" stroke="#111" stroke-width="1.1"/>
<line x1="378.72" y1="137.40" x2="378.72" y2="141.40" stroke="#111" stroke-width="1.1"/>
<line x1="387.04" y1="137.40" x2="387.04" y2="141.40" stroke="#111" stroke-width="1.1"/>
<line x1="395.36" y1="137.40" x2="395.36" y2="141.40" stroke="#111" stroke-width="1.1"/>
<line x1="403.68" y1="137.40" x2="403.68" y2="141.40" stroke="#111" stroke-width="1.1"/>
<line x1="412.00" y1="137.40" x2="412.00" y2="141.40" stroke="#111" stroke-width="1.1"/>
<line x1="420.32" y1="137.40" x2="420.32" y2="141.40" stroke="#111" stroke-width="1.1"/>
<line x1="428.64" y1="137.40" x2="428.64" y2="141.40" stroke="#111" stroke-width="1.1"/>
<line x1="436.96" y1="137.40" x2="436.96" y2="141.40" stroke="#111" stroke-width="1.1"/>
<line x1="445.28" y1="137.40" x2="445.28" y2="141.40" stroke="#111" stroke-width="1.1"/>
<line x1="453.60" y1="137.40" x2="453.60" y2="141.40" stroke="#111" stroke-width="1.1"/>
<line x1="461.92" y1="137.40" x2="461.92" y2="141.40" stroke="#111" stroke-width="1.1"/>
<line x1="470.24" y1="137.40" x2="470.24" y2="141.40" stroke="#111" stroke-width="1.1"/>
<line x1="478.56" y1="137.40" x2="478.56" y2="141.40" stroke="#111" stroke-width="1.1"/>
<line x1="486.88" y1="137.40" x2="486.88" y2="141.40" stroke="#111" stroke-width="1.1"/>
<line x1="495.20" y1="137.40" x2="495.20" y2="141.40" stroke="#111" stroke-width="1.1"/>
<line x1="503.52" y1="137.40" x2="503.52" y2="141.40" stroke="#111" stroke-width="1.1"/>
<text transform="translate(340.3,87.8) rotate(-90)" font-size="10" text-anchor="middle" fill="#2a2a2a" textLength="45.4" lengthAdjust="spacingAndGlyphs">Cell number</text>
<line x1="367.30" y1="54.70" x2="380.80" y2="54.70" stroke="#111" stroke-width="1.7"/>
<circle cx="372.60" cy="50.0" r="0.95" fill="#444"/>
<circle cx="375.50" cy="50.0" r="0.95" fill="#444"/>
<line x1="391.30" y1="54.70" x2="404.80" y2="54.70" stroke="#111" stroke-width="1.7"/>
<circle cx="396.60" cy="50.0" r="0.95" fill="#444"/>
<circle cx="399.50" cy="50.0" r="0.95" fill="#444"/>
<line x1="417.30" y1="54.70" x2="430.70" y2="54.70" stroke="#111" stroke-width="1.7"/>
<circle cx="421.10" cy="50.0" r="0.95" fill="#444"/>
<circle cx="424.00" cy="50.0" r="0.95" fill="#444"/>
<circle cx="426.90" cy="50.0" r="0.95" fill="#444"/>
<line x1="442.20" y1="54.70" x2="455.40" y2="54.70" stroke="#111" stroke-width="1.7"/>
<circle cx="445.90" cy="50.0" r="0.95" fill="#444"/>
<circle cx="448.80" cy="50.0" r="0.95" fill="#444"/>
<circle cx="451.70" cy="50.0" r="0.95" fill="#444"/>
<line x1="466.90" y1="54.70" x2="480.80" y2="54.70" stroke="#111" stroke-width="1.7"/>
<circle cx="470.95" cy="50.0" r="0.95" fill="#444"/>
<circle cx="473.85" cy="50.0" r="0.95" fill="#444"/>
<circle cx="476.75" cy="50.0" r="0.95" fill="#444"/>
<line x1="491.80" y1="54.70" x2="506.20" y2="54.70" stroke="#111" stroke-width="1.7"/>
<circle cx="496.10" cy="50.0" r="0.95" fill="#444"/>
<circle cx="499.00" cy="50.0" r="0.95" fill="#444"/>
<circle cx="501.90" cy="50.0" r="0.95" fill="#444"/>
<circle cx="367.70" cy="76.10" r="2.4" fill="#26406f" stroke="#1a2c52" stroke-width="0.6"/>
<circle cx="373.50" cy="76.10" r="2.4" fill="#26406f" stroke="#1a2c52" stroke-width="0.6"/>
<circle cx="367.00" cy="79.50" r="2.4" fill="#26406f" stroke="#1a2c52" stroke-width="0.6"/>
<circle cx="367.40" cy="83.60" r="2.4" fill="#26406f" stroke="#1a2c52" stroke-width="0.6"/>
<circle cx="370.20" cy="86.30" r="2.4" fill="#26406f" stroke="#1a2c52" stroke-width="0.6"/>
<circle cx="373.50" cy="87.00" r="2.4" fill="#26406f" stroke="#1a2c52" stroke-width="0.6"/>
<circle cx="368.80" cy="89.70" r="2.4" fill="#26406f" stroke="#1a2c52" stroke-width="0.6"/>
<circle cx="394.50" cy="61.10" r="2.4" fill="#26406f" stroke="#1a2c52" stroke-width="0.6"/>
<circle cx="398.60" cy="63.80" r="2.4" fill="#26406f" stroke="#1a2c52" stroke-width="0.6"/>
<circle cx="391.10" cy="67.90" r="2.4" fill="#26406f" stroke="#1a2c52" stroke-width="0.6"/>
<circle cx="395.20" cy="66.50" r="2.4" fill="#26406f" stroke="#1a2c52" stroke-width="0.6"/>
<circle cx="391.80" cy="72.70" r="2.4" fill="#26406f" stroke="#1a2c52" stroke-width="0.6"/>
<circle cx="395.20" cy="72.70" r="2.4" fill="#26406f" stroke="#1a2c52" stroke-width="0.6"/>
<circle cx="394.50" cy="75.40" r="2.4" fill="#26406f" stroke="#1a2c52" stroke-width="0.6"/>
<circle cx="397.90" cy="76.10" r="2.4" fill="#26406f" stroke="#1a2c52" stroke-width="0.6"/>
<circle cx="416.50" cy="71.40" r="2.4" fill="#26406f" stroke="#1a2c52" stroke-width="0.6"/>
<circle cx="420.20" cy="72.30" r="2.4" fill="#26406f" stroke="#1a2c52" stroke-width="0.6"/>
<circle cx="423.90" cy="70.90" r="2.4" fill="#26406f" stroke="#1a2c52" stroke-width="0.6"/>
<circle cx="416.00" cy="75.60" r="2.4" fill="#26406f" stroke="#1a2c52" stroke-width="0.6"/>
<circle cx="423.40" cy="76.50" r="2.4" fill="#26406f" stroke="#1a2c52" stroke-width="0.6"/>
<circle cx="419.70" cy="74.20" r="2.4" fill="#26406f" stroke="#1a2c52" stroke-width="0.6"/>
<circle cx="444.80" cy="59.10" r="2.4" fill="#26406f" stroke="#1a2c52" stroke-width="0.6"/>
<circle cx="441.40" cy="64.50" r="2.4" fill="#26406f" stroke="#1a2c52" stroke-width="0.6"/>
<circle cx="448.90" cy="65.90" r="2.4" fill="#26406f" stroke="#1a2c52" stroke-width="0.6"/>
<circle cx="444.80" cy="64.50" r="2.4" fill="#26406f" stroke="#1a2c52" stroke-width="0.6"/>
<circle cx="444.80" cy="67.20" r="2.4" fill="#26406f" stroke="#1a2c52" stroke-width="0.6"/>
<circle cx="468.20" cy="62.50" r="2.4" fill="#26406f" stroke="#1a2c52" stroke-width="0.6"/>
<circle cx="472.20" cy="61.80" r="2.4" fill="#26406f" stroke="#1a2c52" stroke-width="0.6"/>
<circle cx="466.10" cy="65.20" r="2.4" fill="#26406f" stroke="#1a2c52" stroke-width="0.6"/>
<circle cx="470.20" cy="65.20" r="2.4" fill="#26406f" stroke="#1a2c52" stroke-width="0.6"/>
<circle cx="472.90" cy="64.50" r="2.4" fill="#26406f" stroke="#1a2c52" stroke-width="0.6"/>
<circle cx="469.50" cy="67.20" r="2.4" fill="#26406f" stroke="#1a2c52" stroke-width="0.6"/>
<circle cx="466.80" cy="73.30" r="2.4" fill="#26406f" stroke="#1a2c52" stroke-width="0.6"/>
<circle cx="470.90" cy="72.70" r="2.4" fill="#26406f" stroke="#1a2c52" stroke-width="0.6"/>
<circle cx="473.60" cy="74.00" r="2.4" fill="#26406f" stroke="#1a2c52" stroke-width="0.6"/>
<circle cx="468.80" cy="75.40" r="2.4" fill="#26406f" stroke="#1a2c52" stroke-width="0.6"/>
<circle cx="494.90" cy="61.80" r="2.4" fill="#26406f" stroke="#1a2c52" stroke-width="0.6"/>
<circle cx="492.20" cy="65.90" r="2.4" fill="#26406f" stroke="#1a2c52" stroke-width="0.6"/>
<circle cx="495.50" cy="65.20" r="2.4" fill="#26406f" stroke="#1a2c52" stroke-width="0.6"/>
<circle cx="498.90" cy="67.90" r="2.4" fill="#26406f" stroke="#1a2c52" stroke-width="0.6"/>
<circle cx="494.90" cy="70.00" r="2.4" fill="#26406f" stroke="#1a2c52" stroke-width="0.6"/>
<circle cx="490.80" cy="67.20" r="2.4" fill="#26406f" stroke="#1a2c52" stroke-width="0.6"/>
<circle cx="375.60" cy="91.00" r="2.4" fill="#b40e38" stroke="#920a2c" stroke-width="0.6"/>
<circle cx="378.30" cy="91.70" r="2.4" fill="#b40e38" stroke="#920a2c" stroke-width="0.6"/>
<circle cx="374.90" cy="97.20" r="2.4" fill="#b40e38" stroke="#920a2c" stroke-width="0.6"/>
<circle cx="378.30" cy="103.30" r="2.4" fill="#b40e38" stroke="#920a2c" stroke-width="0.6"/>
<circle cx="382.40" cy="103.30" r="2.4" fill="#b40e38" stroke="#920a2c" stroke-width="0.6"/>
<circle cx="374.90" cy="109.10" r="2.4" fill="#b40e38" stroke="#920a2c" stroke-width="0.6"/>
<circle cx="382.10" cy="109.10" r="2.4" fill="#b40e38" stroke="#920a2c" stroke-width="0.6"/>
<circle cx="378.30" cy="114.80" r="2.4" fill="#b40e38" stroke="#920a2c" stroke-width="0.6"/>
<circle cx="403.30" cy="76.10" r="2.4" fill="#b40e38" stroke="#920a2c" stroke-width="0.6"/>
<circle cx="405.40" cy="81.50" r="2.4" fill="#b40e38" stroke="#920a2c" stroke-width="0.6"/>
<circle cx="400.60" cy="84.20" r="2.4" fill="#b40e38" stroke="#920a2c" stroke-width="0.6"/>
<circle cx="403.30" cy="86.90" r="2.4" fill="#b40e38" stroke="#920a2c" stroke-width="0.6"/>
<circle cx="400.00" cy="91.00" r="2.4" fill="#b40e38" stroke="#920a2c" stroke-width="0.6"/>
<circle cx="403.30" cy="95.10" r="2.4" fill="#b40e38" stroke="#920a2c" stroke-width="0.6"/>
<circle cx="406.70" cy="93.70" r="2.4" fill="#b40e38" stroke="#920a2c" stroke-width="0.6"/>
<circle cx="424.40" cy="83.00" r="2.4" fill="#b40e38" stroke="#920a2c" stroke-width="0.6"/>
<circle cx="431.80" cy="82.50" r="2.4" fill="#b40e38" stroke="#920a2c" stroke-width="0.6"/>
<circle cx="427.60" cy="86.20" r="2.4" fill="#b40e38" stroke="#920a2c" stroke-width="0.6"/>
<circle cx="424.80" cy="91.80" r="2.4" fill="#b40e38" stroke="#920a2c" stroke-width="0.6"/>
<circle cx="427.60" cy="92.70" r="2.4" fill="#b40e38" stroke="#920a2c" stroke-width="0.6"/>
<circle cx="431.30" cy="92.20" r="2.4" fill="#b40e38" stroke="#920a2c" stroke-width="0.6"/>
<circle cx="427.60" cy="89.50" r="2.4" fill="#b40e38" stroke="#920a2c" stroke-width="0.6"/>
<circle cx="451.00" cy="80.10" r="2.4" fill="#b40e38" stroke="#920a2c" stroke-width="0.6"/>
<circle cx="455.70" cy="80.10" r="2.4" fill="#b40e38" stroke="#920a2c" stroke-width="0.6"/>
<circle cx="453.00" cy="84.20" r="2.4" fill="#b40e38" stroke="#920a2c" stroke-width="0.6"/>
<circle cx="449.60" cy="84.20" r="2.4" fill="#b40e38" stroke="#920a2c" stroke-width="0.6"/>
<circle cx="457.00" cy="84.20" r="2.4" fill="#b40e38" stroke="#920a2c" stroke-width="0.6"/>
<circle cx="449.60" cy="89.60" r="2.4" fill="#b40e38" stroke="#920a2c" stroke-width="0.6"/>
<circle cx="456.40" cy="91.00" r="2.4" fill="#b40e38" stroke="#920a2c" stroke-width="0.6"/>
<circle cx="453.40" cy="94.40" r="2.4" fill="#b40e38" stroke="#920a2c" stroke-width="0.6"/>
<circle cx="477.90" cy="96.00" r="2.4" fill="#b40e38" stroke="#920a2c" stroke-width="0.6"/>
<circle cx="474.40" cy="99.80" r="2.4" fill="#b40e38" stroke="#920a2c" stroke-width="0.6"/>
<circle cx="479.00" cy="98.80" r="2.4" fill="#b40e38" stroke="#920a2c" stroke-width="0.6"/>
<circle cx="477.90" cy="102.30" r="2.4" fill="#b40e38" stroke="#920a2c" stroke-width="0.6"/>
<circle cx="481.90" cy="102.30" r="2.4" fill="#b40e38" stroke="#920a2c" stroke-width="0.6"/>
<circle cx="503.70" cy="79.50" r="2.4" fill="#b40e38" stroke="#920a2c" stroke-width="0.6"/>
<circle cx="501.70" cy="83.50" r="2.4" fill="#b40e38" stroke="#920a2c" stroke-width="0.6"/>
<circle cx="507.10" cy="83.50" r="2.4" fill="#b40e38" stroke="#920a2c" stroke-width="0.6"/>
<circle cx="503.70" cy="86.30" r="2.4" fill="#b40e38" stroke="#920a2c" stroke-width="0.6"/>
<circle cx="499.60" cy="90.30" r="2.4" fill="#b40e38" stroke="#920a2c" stroke-width="0.6"/>
<circle cx="503.70" cy="93.00" r="2.4" fill="#b40e38" stroke="#920a2c" stroke-width="0.6"/>
<circle cx="507.10" cy="92.40" r="2.4" fill="#b40e38" stroke="#920a2c" stroke-width="0.6"/>
<circle cx="378.50" cy="137.20" r="1.9" fill="#8a0a2c" stroke="#6a0820" stroke-width="0.4"/>
<circle cx="419.70" cy="81.10" r="1.7" fill="#1e5058" stroke="#173f46" stroke-width="0.4"/>
<line x1="367.10" y1="80.90" x2="373.10" y2="80.90" stroke="#111" stroke-width="1.5"/>
<line x1="391.80" y1="68.30" x2="397.80" y2="68.30" stroke="#111" stroke-width="1.5"/>
<line x1="394.80" y1="65.30" x2="394.80" y2="68.30" stroke="#111" stroke-width="1.0"/>
<line x1="417.00" y1="73.50" x2="423.00" y2="73.50" stroke="#111" stroke-width="1.5"/>
<line x1="442.00" y1="64.50" x2="448.00" y2="64.50" stroke="#111" stroke-width="1.5"/>
<line x1="467.00" y1="67.50" x2="473.00" y2="67.50" stroke="#111" stroke-width="1.5"/>
<line x1="492.00" y1="65.50" x2="498.00" y2="65.50" stroke="#111" stroke-width="1.5"/>
<line x1="375.60" y1="99.00" x2="381.60" y2="99.00" stroke="#111" stroke-width="1.5"/>
<line x1="378.60" y1="94.20" x2="378.60" y2="99.00" stroke="#111" stroke-width="1.0"/>
<line x1="401.00" y1="82.00" x2="407.00" y2="82.00" stroke="#111" stroke-width="1.5"/>
<line x1="404.00" y1="78.00" x2="404.00" y2="82.00" stroke="#111" stroke-width="1.0"/>
<line x1="425.00" y1="88.30" x2="431.00" y2="88.30" stroke="#111" stroke-width="1.5"/>
<line x1="428.00" y1="85.30" x2="428.00" y2="88.30" stroke="#111" stroke-width="1.0"/>
<line x1="450.30" y1="83.60" x2="456.30" y2="83.60" stroke="#111" stroke-width="1.5"/>
<line x1="453.30" y1="80.60" x2="453.30" y2="83.60" stroke="#111" stroke-width="1.0"/>
<line x1="475.00" y1="98.80" x2="481.00" y2="98.80" stroke="#111" stroke-width="1.5"/>
<line x1="478.00" y1="96.80" x2="478.00" y2="98.80" stroke="#111" stroke-width="1.0"/>
<line x1="500.50" y1="85.60" x2="506.50" y2="85.60" stroke="#111" stroke-width="1.5"/>
<line x1="503.50" y1="82.60" x2="503.50" y2="85.60" stroke="#111" stroke-width="1.0"/>
<circle cx="397.60" cy="154.40" r="3.4" fill="#26406f" stroke="#1a2c52" stroke-width="0.8"/>
<text x="405.80" y="157.00" font-size="9.0" font-style="italic" fill="#333" textLength="105.7" lengthAdjust="spacingAndGlyphs">R.26-CreER<tspan dy="-3.0" font-size="7.74">T2+</tspan><tspan dy="3.0">;Setd1a</tspan><tspan dy="-3.0" font-size="7.74">+/+</tspan></text>
<circle cx="397.60" cy="169.20" r="3.4" fill="#b40e38" stroke="#920a2c" stroke-width="0.8"/>
<text x="405.80" y="171.60" font-size="9.0" font-style="italic" fill="#333" textLength="105.7" lengthAdjust="spacingAndGlyphs">R.26-CreER<tspan dy="-3.0" font-size="7.74">T2+</tspan><tspan dy="3.0">;Setd1a</tspan><tspan dy="-3.0" font-size="7.74">F/F</tspan></text>
<rect x="13.5" y="208.2" width="2.5" height="9.4" fill="#000"/>
<line x1="39.50" y1="229.90" x2="39.50" y2="327.40" stroke="#111" stroke-width="1.4"/>
<line x1="35.90" y1="326.90" x2="39.50" y2="326.90" stroke="#111" stroke-width="1.1"/>
<text x="32.20" y="329.80" font-size="8.2" text-anchor="end" fill="#333" >0</text>
<line x1="35.90" y1="303.75" x2="39.50" y2="303.75" stroke="#111" stroke-width="1.1"/>
<text x="32.20" y="306.65" font-size="8.2" text-anchor="end" fill="#333" >20</text>
<line x1="35.90" y1="280.60" x2="39.50" y2="280.60" stroke="#111" stroke-width="1.1"/>
<text x="32.20" y="283.50" font-size="8.2" text-anchor="end" fill="#333" >40</text>
<line x1="35.90" y1="257.45" x2="39.50" y2="257.45" stroke="#111" stroke-width="1.1"/>
<text x="32.20" y="260.35" font-size="8.2" text-anchor="end" fill="#333" >60</text>
<line x1="35.90" y1="234.30" x2="39.50" y2="234.30" stroke="#111" stroke-width="1.1"/>
<text x="32.20" y="237.20" font-size="8.2" text-anchor="end" fill="#333" >80</text>
<line x1="37.50" y1="315.32" x2="39.50" y2="315.32" stroke="#111" stroke-width="0.9"/>
<line x1="37.50" y1="292.17" x2="39.50" y2="292.17" stroke="#111" stroke-width="0.9"/>
<line x1="37.50" y1="269.02" x2="39.50" y2="269.02" stroke="#111" stroke-width="0.9"/>
<line x1="37.50" y1="245.88" x2="39.50" y2="245.88" stroke="#111" stroke-width="0.9"/>
<line x1="36.30" y1="326.90" x2="183.80" y2="326.90" stroke="#111" stroke-width="1.4"/>
<line x1="39.50" y1="326.90" x2="39.50" y2="330.70" stroke="#111" stroke-width="1.1"/>
<line x1="49.56" y1="326.90" x2="49.56" y2="329.10" stroke="#111" stroke-width="1.1"/>
<line x1="59.62" y1="326.90" x2="59.62" y2="330.70" stroke="#111" stroke-width="1.1"/>
<line x1="69.68" y1="326.90" x2="69.68" y2="329.10" stroke="#111" stroke-width="1.1"/>
<line x1="79.74" y1="326.90" x2="79.74" y2="330.70" stroke="#111" stroke-width="1.1"/>
<line x1="89.80" y1="326.90" x2="89.80" y2="329.10" stroke="#111" stroke-width="1.1"/>
<line x1="99.86" y1="326.90" x2="99.86" y2="330.70" stroke="#111" stroke-width="1.1"/>
<line x1="109.92" y1="326.90" x2="109.92" y2="329.10" stroke="#111" stroke-width="1.1"/>
<line x1="119.98" y1="326.90" x2="119.98" y2="330.70" stroke="#111" stroke-width="1.1"/>
<line x1="130.04" y1="326.90" x2="130.04" y2="329.10" stroke="#111" stroke-width="1.1"/>
<line x1="140.10" y1="326.90" x2="140.10" y2="330.70" stroke="#111" stroke-width="1.1"/>
<line x1="150.16" y1="326.90" x2="150.16" y2="329.10" stroke="#111" stroke-width="1.1"/>
<line x1="160.22" y1="326.90" x2="160.22" y2="330.70" stroke="#111" stroke-width="1.1"/>
<line x1="170.28" y1="326.90" x2="170.28" y2="329.10" stroke="#111" stroke-width="1.1"/>
<line x1="180.34" y1="326.90" x2="180.34" y2="330.70" stroke="#111" stroke-width="1.1"/>
<text x="39.50" y="342.00" font-size="8.2" text-anchor="middle" fill="#333" >0</text>
<text x="59.62" y="342.00" font-size="8.2" text-anchor="middle" fill="#333" >4</text>
<text x="79.74" y="342.00" font-size="8.2" text-anchor="middle" fill="#333" >8</text>
<text x="99.86" y="342.00" font-size="8.2" text-anchor="middle" fill="#333" >12</text>
<text x="119.98" y="342.00" font-size="8.2" text-anchor="middle" fill="#333" >16</text>
<text x="140.10" y="342.00" font-size="8.2" text-anchor="middle" fill="#333" >20</text>
<text x="160.22" y="342.00" font-size="8.2" text-anchor="middle" fill="#333" >24</text>
<text x="180.34" y="342.00" font-size="8.2" text-anchor="middle" fill="#333" >28</text>
<text x="61.20" y="357.20" font-size="10" text-anchor="start" fill="#2a2a2a" textLength="102.8" lengthAdjust="spacingAndGlyphs" >Weeks after transplantation</text>
<text transform="translate(17.4,278.5) rotate(-90)" font-size="9.4" text-anchor="middle" fill="#2a2a2a" textLength="77" lengthAdjust="spacingAndGlyphs">Blood chimerism [%]</text>
<path d="M101.3,229.0 L106.0,231.9 L110.6,229.0 L105.8,240.2 Z" fill="#dc961e"/>
<text x="111.90" y="231.90" font-size="7.0" text-anchor="start" fill="#b8882e" textLength="13.1" lengthAdjust="spacingAndGlyphs" stroke="#b8882e" stroke-width="0.12">TAM</text>
<path d="M156.0,229.4 L160.4,231.9 L164.8,229.4 L160,240.2 Z" fill="#8a0a32"/>
<text x="167.30" y="231.90" font-size="7.0" text-anchor="start" fill="#6e2646" textLength="11.9" lengthAdjust="spacingAndGlyphs" stroke="#6e2646" stroke-width="0.12">5FU</text>
<circle cx="60.12" cy="276.20" r="1.15" fill="#5a5a5a"/>
<circle cx="60.12" cy="283.50" r="1.15" fill="#5a5a5a"/>
<circle cx="60.12" cy="290.10" r="1.15" fill="#5a5a5a"/>
<circle cx="80.24" cy="276.20" r="1.15" fill="#5a5a5a"/>
<circle cx="80.24" cy="283.50" r="1.15" fill="#5a5a5a"/>
<circle cx="80.24" cy="290.10" r="1.15" fill="#5a5a5a"/>
<circle cx="100.36" cy="276.60" r="1.15" fill="#5a5a5a"/>
<circle cx="125.51" cy="239.40" r="1.15" fill="#5a5a5a"/>
<circle cx="125.51" cy="246.50" r="1.15" fill="#5a5a5a"/>
<circle cx="125.51" cy="253.00" r="1.15" fill="#5a5a5a"/>
<circle cx="135.57" cy="239.40" r="1.15" fill="#5a5a5a"/>
<circle cx="135.57" cy="246.50" r="1.15" fill="#5a5a5a"/>
<circle cx="135.57" cy="253.00" r="1.15" fill="#5a5a5a"/>
<circle cx="145.63" cy="239.40" r="1.15" fill="#5a5a5a"/>
<circle cx="145.63" cy="246.50" r="1.15" fill="#5a5a5a"/>
<circle cx="145.63" cy="253.00" r="1.15" fill="#5a5a5a"/>
<circle cx="155.69" cy="258.30" r="1.15" fill="#5a5a5a"/>
<circle cx="155.69" cy="265.40" r="1.15" fill="#5a5a5a"/>
<circle cx="155.69" cy="272.00" r="1.15" fill="#5a5a5a"/>
<circle cx="170.78" cy="258.30" r="1.15" fill="#5a5a5a"/>
<circle cx="170.78" cy="265.40" r="1.15" fill="#5a5a5a"/>
<circle cx="170.78" cy="272.00" r="1.15" fill="#5a5a5a"/>
<polyline points="60.12,251.70 80.24,252.70 100.36,263.50 125.51,259.40 135.57,257.90 145.63,259.40 155.69,277.90 170.78,281.20" fill="none" stroke="#26406f" stroke-width="1.7" stroke-linejoin="round"/>
<circle cx="60.12" cy="251.70" r="2.55" fill="#26406f" stroke="#1a2c52" stroke-width="0.6"/>
<circle cx="80.24" cy="252.70" r="2.55" fill="#26406f" stroke="#1a2c52" stroke-width="0.6"/>
<circle cx="100.36" cy="263.50" r="2.55" fill="#26406f" stroke="#1a2c52" stroke-width="0.6"/>
<circle cx="125.51" cy="259.40" r="2.55" fill="#26406f" stroke="#1a2c52" stroke-width="0.6"/>
<circle cx="135.57" cy="257.90" r="2.55" fill="#26406f" stroke="#1a2c52" stroke-width="0.6"/>
<circle cx="145.63" cy="259.40" r="2.55" fill="#26406f" stroke="#1a2c52" stroke-width="0.6"/>
<circle cx="155.69" cy="277.90" r="2.55" fill="#26406f" stroke="#1a2c52" stroke-width="0.6"/>
<circle cx="170.78" cy="281.20" r="2.55" fill="#26406f" stroke="#1a2c52" stroke-width="0.6"/>
<polyline points="60.12,255.50 80.24,263.30 100.36,265.50 125.51,268.20 135.57,266.40 145.63,267.30 155.69,282.30 170.78,291.80" fill="none" stroke="#26406f" stroke-width="1.7" stroke-linejoin="round"/>
<circle cx="60.12" cy="255.50" r="2.55" fill="#26406f" stroke="#1a2c52" stroke-width="0.6"/>
<circle cx="80.24" cy="263.30" r="2.55" fill="#26406f" stroke="#1a2c52" stroke-width="0.6"/>
<circle cx="100.36" cy="265.50" r="2.55" fill="#26406f" stroke="#1a2c52" stroke-width="0.6"/>
<circle cx="125.51" cy="268.20" r="2.55" fill="#26406f" stroke="#1a2c52" stroke-width="0.6"/>
<circle cx="135.57" cy="266.40" r="2.55" fill="#26406f" stroke="#1a2c52" stroke-width="0.6"/>
<circle cx="145.63" cy="267.30" r="2.55" fill="#26406f" stroke="#1a2c52" stroke-width="0.6"/>
<circle cx="155.69" cy="282.30" r="2.55" fill="#26406f" stroke="#1a2c52" stroke-width="0.6"/>
<circle cx="170.78" cy="291.80" r="2.55" fill="#26406f" stroke="#1a2c52" stroke-width="0.6"/>
<polyline points="60.12,258.50 80.24,263.80 100.36,266.50 125.51,278.80 135.57,272.60 145.63,277.00 155.69,289.70 170.78,288.80" fill="none" stroke="#26406f" stroke-width="1.7" stroke-linejoin="round"/>
<circle cx="60.12" cy="258.50" r="2.55" fill="#26406f" stroke="#1a2c52" stroke-width="0.6"/>
<circle cx="80.24" cy="263.80" r="2.55" fill="#26406f" stroke="#1a2c52" stroke-width="0.6"/>
<circle cx="100.36" cy="266.50" r="2.55" fill="#26406f" stroke="#1a2c52" stroke-width="0.6"/>
<circle cx="125.51" cy="278.80" r="2.55" fill="#26406f" stroke="#1a2c52" stroke-width="0.6"/>
<circle cx="135.57" cy="272.60" r="2.55" fill="#26406f" stroke="#1a2c52" stroke-width="0.6"/>
<circle cx="145.63" cy="277.00" r="2.55" fill="#26406f" stroke="#1a2c52" stroke-width="0.6"/>
<circle cx="155.69" cy="289.70" r="2.55" fill="#26406f" stroke="#1a2c52" stroke-width="0.6"/>
<circle cx="170.78" cy="288.80" r="2.55" fill="#26406f" stroke="#1a2c52" stroke-width="0.6"/>
<polyline points="60.12,261.50 80.24,264.20 100.36,267.50 125.51,268.20 135.57,266.40 145.63,267.30 155.69,282.30 170.78,288.80" fill="none" stroke="#26406f" stroke-width="1.7" stroke-linejoin="round"/>
<circle cx="60.12" cy="261.50" r="2.55" fill="#26406f" stroke="#1a2c52" stroke-width="0.6"/>
<circle cx="80.24" cy="264.20" r="2.55" fill="#26406f" stroke="#1a2c52" stroke-width="0.6"/>
<circle cx="100.36" cy="267.50" r="2.55" fill="#26406f" stroke="#1a2c52" stroke-width="0.6"/>
<circle cx="125.51" cy="268.20" r="2.55" fill="#26406f" stroke="#1a2c52" stroke-width="0.6"/>
<circle cx="135.57" cy="266.40" r="2.55" fill="#26406f" stroke="#1a2c52" stroke-width="0.6"/>
<circle cx="145.63" cy="267.30" r="2.55" fill="#26406f" stroke="#1a2c52" stroke-width="0.6"/>
<circle cx="155.69" cy="282.30" r="2.55" fill="#26406f" stroke="#1a2c52" stroke-width="0.6"/>
<circle cx="170.78" cy="288.80" r="2.55" fill="#26406f" stroke="#1a2c52" stroke-width="0.6"/>
<polyline points="60.12,266.80 80.24,267.50 100.36,268.50 125.51,259.40 135.57,257.90 145.63,259.40 155.69,277.90 170.78,291.80" fill="none" stroke="#26406f" stroke-width="1.7" stroke-linejoin="round"/>
<circle cx="60.12" cy="266.80" r="2.55" fill="#26406f" stroke="#1a2c52" stroke-width="0.6"/>
<circle cx="80.24" cy="267.50" r="2.55" fill="#26406f" stroke="#1a2c52" stroke-width="0.6"/>
<circle cx="100.36" cy="268.50" r="2.55" fill="#26406f" stroke="#1a2c52" stroke-width="0.6"/>
<circle cx="125.51" cy="259.40" r="2.55" fill="#26406f" stroke="#1a2c52" stroke-width="0.6"/>
<circle cx="135.57" cy="257.90" r="2.55" fill="#26406f" stroke="#1a2c52" stroke-width="0.6"/>
<circle cx="145.63" cy="259.40" r="2.55" fill="#26406f" stroke="#1a2c52" stroke-width="0.6"/>
<circle cx="155.69" cy="277.90" r="2.55" fill="#26406f" stroke="#1a2c52" stroke-width="0.6"/>
<circle cx="170.78" cy="291.80" r="2.55" fill="#26406f" stroke="#1a2c52" stroke-width="0.6"/>
<polyline points="60.12,235.80 80.24,235.80 100.36,240.10 125.51,307.50 135.57,310.20 145.63,308.20 155.69,316.90 170.78,326.60" fill="none" stroke="#b40e38" stroke-width="2.0" stroke-linejoin="round"/>
<circle cx="60.12" cy="235.80" r="2.55" fill="#b40e38" stroke="#920a2c" stroke-width="0.6"/>
<circle cx="80.24" cy="235.80" r="2.55" fill="#b40e38" stroke="#920a2c" stroke-width="0.6"/>
<circle cx="100.36" cy="240.10" r="2.55" fill="#b40e38" stroke="#920a2c" stroke-width="0.6"/>
<circle cx="125.51" cy="307.50" r="2.55" fill="#b40e38" stroke="#920a2c" stroke-width="0.6"/>
<circle cx="135.57" cy="310.20" r="2.55" fill="#b40e38" stroke="#920a2c" stroke-width="0.6"/>
<circle cx="145.63" cy="308.20" r="2.55" fill="#b40e38" stroke="#920a2c" stroke-width="0.6"/>
<circle cx="155.69" cy="316.90" r="2.55" fill="#b40e38" stroke="#920a2c" stroke-width="0.6"/>
<circle cx="170.78" cy="326.60" r="2.55" fill="#b40e38" stroke="#920a2c" stroke-width="0.6"/>
<polyline points="60.12,238.20 80.24,238.40 100.36,251.50 125.51,312.20 135.57,313.60 145.63,312.20 155.69,316.90 170.78,326.60" fill="none" stroke="#b40e38" stroke-width="2.0" stroke-linejoin="round"/>
<circle cx="60.12" cy="238.20" r="2.55" fill="#b40e38" stroke="#920a2c" stroke-width="0.6"/>
<circle cx="80.24" cy="238.40" r="2.55" fill="#b40e38" stroke="#920a2c" stroke-width="0.6"/>
<circle cx="100.36" cy="251.50" r="2.55" fill="#b40e38" stroke="#920a2c" stroke-width="0.6"/>
<circle cx="125.51" cy="312.20" r="2.55" fill="#b40e38" stroke="#920a2c" stroke-width="0.6"/>
<circle cx="135.57" cy="313.60" r="2.55" fill="#b40e38" stroke="#920a2c" stroke-width="0.6"/>
<circle cx="145.63" cy="312.20" r="2.55" fill="#b40e38" stroke="#920a2c" stroke-width="0.6"/>
<circle cx="155.69" cy="316.90" r="2.55" fill="#b40e38" stroke="#920a2c" stroke-width="0.6"/>
<circle cx="170.78" cy="326.60" r="2.55" fill="#b40e38" stroke="#920a2c" stroke-width="0.6"/>
<polyline points="60.12,240.70 80.24,240.90 100.36,256.00 125.51,317.60 135.57,315.60 145.63,314.90 155.69,321.00 170.78,326.60" fill="none" stroke="#b40e38" stroke-width="2.0" stroke-linejoin="round"/>
<circle cx="60.12" cy="240.70" r="2.55" fill="#b40e38" stroke="#920a2c" stroke-width="0.6"/>
<circle cx="80.24" cy="240.90" r="2.55" fill="#b40e38" stroke="#920a2c" stroke-width="0.6"/>
<circle cx="100.36" cy="256.00" r="2.55" fill="#b40e38" stroke="#920a2c" stroke-width="0.6"/>
<circle cx="125.51" cy="317.60" r="2.55" fill="#b40e38" stroke="#920a2c" stroke-width="0.6"/>
<circle cx="135.57" cy="315.60" r="2.55" fill="#b40e38" stroke="#920a2c" stroke-width="0.6"/>
<circle cx="145.63" cy="314.90" r="2.55" fill="#b40e38" stroke="#920a2c" stroke-width="0.6"/>
<circle cx="155.69" cy="321.00" r="2.55" fill="#b40e38" stroke="#920a2c" stroke-width="0.6"/>
<circle cx="170.78" cy="326.60" r="2.55" fill="#b40e38" stroke="#920a2c" stroke-width="0.6"/>
<polyline points="60.12,243.60 80.24,243.00 100.36,261.50 125.51,312.20 135.57,310.20 145.63,312.20 155.69,321.00 170.78,326.60" fill="none" stroke="#b40e38" stroke-width="2.0" stroke-linejoin="round"/>
<circle cx="60.12" cy="243.60" r="2.55" fill="#b40e38" stroke="#920a2c" stroke-width="0.6"/>
<circle cx="80.24" cy="243.00" r="2.55" fill="#b40e38" stroke="#920a2c" stroke-width="0.6"/>
<circle cx="100.36" cy="261.50" r="2.55" fill="#b40e38" stroke="#920a2c" stroke-width="0.6"/>
<circle cx="125.51" cy="312.20" r="2.55" fill="#b40e38" stroke="#920a2c" stroke-width="0.6"/>
<circle cx="135.57" cy="310.20" r="2.55" fill="#b40e38" stroke="#920a2c" stroke-width="0.6"/>
<circle cx="145.63" cy="312.20" r="2.55" fill="#b40e38" stroke="#920a2c" stroke-width="0.6"/>
<circle cx="155.69" cy="321.00" r="2.55" fill="#b40e38" stroke="#920a2c" stroke-width="0.6"/>
<circle cx="170.78" cy="326.60" r="2.55" fill="#b40e38" stroke="#920a2c" stroke-width="0.6"/>
<polyline points="60.12,237.00 80.24,241.00 100.36,258.50 125.51,307.50 135.57,313.60 145.63,308.20 155.69,316.90 170.78,326.60" fill="none" stroke="#b40e38" stroke-width="2.0" stroke-linejoin="round"/>
<circle cx="60.12" cy="237.00" r="2.55" fill="#b40e38" stroke="#920a2c" stroke-width="0.6"/>
<circle cx="80.24" cy="241.00" r="2.55" fill="#b40e38" stroke="#920a2c" stroke-width="0.6"/>
<circle cx="100.36" cy="258.50" r="2.55" fill="#b40e38" stroke="#920a2c" stroke-width="0.6"/>
<circle cx="125.51" cy="307.50" r="2.55" fill="#b40e38" stroke="#920a2c" stroke-width="0.6"/>
<circle cx="135.57" cy="313.60" r="2.55" fill="#b40e38" stroke="#920a2c" stroke-width="0.6"/>
<circle cx="145.63" cy="308.20" r="2.55" fill="#b40e38" stroke="#920a2c" stroke-width="0.6"/>
<circle cx="155.69" cy="316.90" r="2.55" fill="#b40e38" stroke="#920a2c" stroke-width="0.6"/>
<circle cx="170.78" cy="326.60" r="2.55" fill="#b40e38" stroke="#920a2c" stroke-width="0.6"/>
<circle cx="192.30" cy="267.10" r="2.7" fill="#26406f" stroke="#1a2c52" stroke-width="0.7"/>
<text x="200.00" y="266.00" font-size="9.0" font-style="italic" fill="#333" textLength="59.5" lengthAdjust="spacingAndGlyphs">R.26-CreER<tspan dy="-3.0" font-size="7.74">T2+</tspan></text>
<text x="200.00" y="276.80" font-size="9.0" font-style="italic" fill="#333" textLength="41.4" lengthAdjust="spacingAndGlyphs">Setd1a<tspan dy="-3.0" font-size="7.74">+/+</tspan></text>
<circle cx="192.30" cy="293.70" r="2.8" fill="#b40e38" stroke="#920a2c" stroke-width="0.7"/>
<text x="200.00" y="292.30" font-size="9.0" font-style="italic" fill="#333" textLength="59.5" lengthAdjust="spacingAndGlyphs">R.26-CreER<tspan dy="-3.0" font-size="7.74">T2+</tspan></text>
<text x="200.00" y="303.00" font-size="9.0" font-style="italic" fill="#333" textLength="37" lengthAdjust="spacingAndGlyphs">Setd1a<tspan dy="-3.0" font-size="7.74">F/F</tspan></text>
<path d="M282.7,208.1 L282.7,213.6 Q282.7,216.5 280.2,216.5 Q278.6,216.5 277.8,215.0" fill="none" stroke="#000" stroke-width="2.4"/>
<text x="326.60" y="224.80" font-size="10.6" text-anchor="middle" fill="#2a2a2a" textLength="33.4" lengthAdjust="spacingAndGlyphs" >LT-HSC</text>
<line x1="309.00" y1="230.10" x2="309.00" y2="327.80" stroke="#111" stroke-width="1.4"/>
<line x1="305.60" y1="327.00" x2="309.00" y2="327.00" stroke="#111" stroke-width="1.1"/>
<text x="301.10" y="329.40" font-size="8.0" text-anchor="end" fill="#333" textLength="10" lengthAdjust="spacingAndGlyphs">10<tspan dy="-3.1" font-size="5.6">3</tspan></text>
<line x1="306.70" y1="312.91" x2="309.00" y2="312.91" stroke="#111" stroke-width="0.9"/>
<line x1="306.70" y1="304.67" x2="309.00" y2="304.67" stroke="#111" stroke-width="0.9"/>
<line x1="306.70" y1="298.82" x2="309.00" y2="298.82" stroke="#111" stroke-width="0.9"/>
<line x1="306.70" y1="294.29" x2="309.00" y2="294.29" stroke="#111" stroke-width="0.9"/>
<line x1="306.70" y1="290.58" x2="309.00" y2="290.58" stroke="#111" stroke-width="0.9"/>
<line x1="306.70" y1="287.45" x2="309.00" y2="287.45" stroke="#111" stroke-width="0.9"/>
<line x1="306.70" y1="284.74" x2="309.00" y2="284.74" stroke="#111" stroke-width="0.9"/>
<line x1="306.70" y1="282.34" x2="309.00" y2="282.34" stroke="#111" stroke-width="0.9"/>
<line x1="305.60" y1="280.20" x2="309.00" y2="280.20" stroke="#111" stroke-width="1.1"/>
<text x="301.10" y="282.60" font-size="8.0" text-anchor="end" fill="#333" textLength="10" lengthAdjust="spacingAndGlyphs">10<tspan dy="-3.1" font-size="5.6">4</tspan></text>
<line x1="306.70" y1="266.11" x2="309.00" y2="266.11" stroke="#111" stroke-width="0.9"/>
<line x1="306.70" y1="257.87" x2="309.00" y2="257.87" stroke="#111" stroke-width="0.9"/>
<line x1="306.70" y1="252.02" x2="309.00" y2="252.02" stroke="#111" stroke-width="0.9"/>
<line x1="306.70" y1="247.49" x2="309.00" y2="247.49" stroke="#111" stroke-width="0.9"/>
<line x1="306.70" y1="243.78" x2="309.00" y2="243.78" stroke="#111" stroke-width="0.9"/>
<line x1="306.70" y1="240.65" x2="309.00" y2="240.65" stroke="#111" stroke-width="0.9"/>
<line x1="306.70" y1="237.94" x2="309.00" y2="237.94" stroke="#111" stroke-width="0.9"/>
<line x1="306.70" y1="235.54" x2="309.00" y2="235.54" stroke="#111" stroke-width="0.9"/>
<line x1="305.60" y1="233.40" x2="309.00" y2="233.40" stroke="#111" stroke-width="1.1"/>
<text x="301.10" y="235.80" font-size="8.0" text-anchor="end" fill="#333" textLength="10" lengthAdjust="spacingAndGlyphs">10<tspan dy="-3.1" font-size="5.6">5</tspan></text>
<line x1="306.00" y1="327.30" x2="344.00" y2="327.30" stroke="#111" stroke-width="1.4"/>
<line x1="317.40" y1="327.30" x2="317.40" y2="331.30" stroke="#111" stroke-width="1.1"/>
<line x1="335.10" y1="327.30" x2="335.10" y2="331.30" stroke="#111" stroke-width="1.1"/>
<text transform="translate(285.2,279.2) rotate(-90)" font-size="10" text-anchor="middle" fill="#2a2a2a" textLength="46.4" lengthAdjust="spacingAndGlyphs">Cell number</text>
<line x1="318.90" y1="239.20" x2="336.80" y2="239.20" stroke="#111" stroke-width="1.5"/>
<circle cx="324.90" cy="234.2" r="0.95" fill="#444"/>
<circle cx="327.80" cy="234.2" r="0.95" fill="#444"/>
<circle cx="330.70" cy="234.2" r="0.95" fill="#444"/>
<circle cx="313.20" cy="244.00" r="2.6" fill="#26406f" stroke="#1a2c52" stroke-width="0.6"/>
<circle cx="317.20" cy="246.40" r="2.6" fill="#26406f" stroke="#1a2c52" stroke-width="0.6"/>
<circle cx="322.10" cy="248.00" r="2.6" fill="#26406f" stroke="#1a2c52" stroke-width="0.6"/>
<circle cx="317.20" cy="252.10" r="2.6" fill="#26406f" stroke="#1a2c52" stroke-width="0.6"/>
<line x1="312.00" y1="248.00" x2="323.50" y2="248.00" stroke="#111" stroke-width="1.4"/>
<circle cx="331.60" cy="285.90" r="2.6" fill="#b40e38" stroke="#920a2c" stroke-width="0.6"/>
<circle cx="336.90" cy="283.80" r="2.6" fill="#b40e38" stroke="#920a2c" stroke-width="0.6"/>
<circle cx="334.20" cy="289.40" r="2.6" fill="#b40e38" stroke="#920a2c" stroke-width="0.6"/>
<circle cx="338.60" cy="289.40" r="2.6" fill="#b40e38" stroke="#920a2c" stroke-width="0.6"/>
<circle cx="336.00" cy="291.20" r="2.6" fill="#b40e38" stroke="#920a2c" stroke-width="0.6"/>
<line x1="330.50" y1="287.80" x2="340.50" y2="287.80" stroke="#4a0818" stroke-width="1.3"/>
<circle cx="359.30" cy="261.50" r="3.2" fill="#26406f" stroke="#1a2c52" stroke-width="0.7"/>
<text x="367.60" y="259.10" font-size="9.0" font-style="italic" fill="#333" textLength="61.3" lengthAdjust="spacingAndGlyphs">R.26-CreER<tspan dy="-3.0" font-size="7.74">T2+</tspan></text>
<text x="367.60" y="269.20" font-size="9.0" font-style="italic" fill="#333" textLength="41.3" lengthAdjust="spacingAndGlyphs">Setd1a<tspan dy="-3.0" font-size="7.74">+/+</tspan></text>
<circle cx="359.40" cy="287.40" r="3.2" fill="#b40e38" stroke="#920a2c" stroke-width="0.7"/>
<text x="367.60" y="285.50" font-size="9.0" font-style="italic" fill="#333" textLength="61.3" lengthAdjust="spacingAndGlyphs">R.26-CreER<tspan dy="-3.0" font-size="7.74">T2+</tspan></text>
<text x="367.60" y="295.50" font-size="9.0" font-style="italic" fill="#333" textLength="39.8" lengthAdjust="spacingAndGlyphs">Setd1a<tspan dy="-3.0" font-size="7.74">F/F</tspan></text>
<rect x="0.75" y="0.75" width="518.5" height="366.5" fill="none" stroke="#000" stroke-width="1.5"/>
<rect x="519" y="0" width="1" height="368" fill="#000"/>
<rect x="0" y="367" width="520" height="1" fill="#000"/>
</svg></div></body></html>
